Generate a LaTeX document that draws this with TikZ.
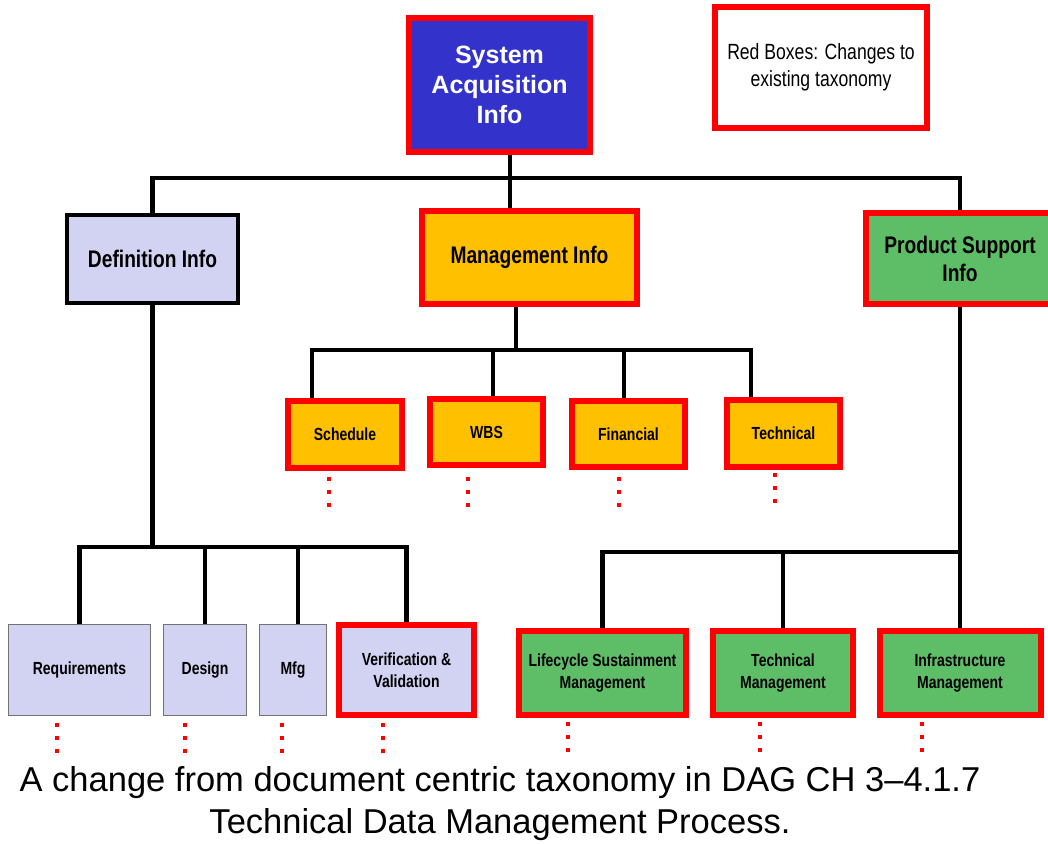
\documentclass[tikz,border=0pt]{standalone}
\usepackage{fontspec}
\setmainfont{Liberation Sans}
\newfontfamily\narrowfont[FakeStretch=0.8]{Liberation Sans}
\definecolor{saiblue}{HTML}{3333CC}
\definecolor{mgmtorange}{HTML}{FFC000}
\definecolor{supgreen}{HTML}{5EBE68}
\definecolor{deflilac}{HTML}{D2D2F2}
\definecolor{chgred}{HTML}{FF0000}
\begin{document}
\begin{tikzpicture}[x=1pt, y=-1pt,
		box/.style = {rectangle, align=center, inner sep=0pt},
		changed/.style = {box, draw=chgred, line width=6pt},
		kept/.style = {box, draw=black!55, line width=1pt, fill=deflilac},
		big/.style = {font=\narrowfont\bfseries\fontsize{24}{28}\selectfont},
		small/.style = {font=\narrowfont\bfseries\fontsize{17.5}{22}\selectfont},
		link/.style = {line width=4.5pt},
		more/.style = {chgred, line width=3.5pt, dash pattern=on 4pt off 9pt}]
	\useasboundingbox (0,0) rectangle (1048,843);
	
	\node[changed, fill=saiblue, text=white, minimum width=181, minimum height=134,
		font=\bfseries\fontsize{25}{30}\selectfont] (sai) at (499.5,85) {System\\Acquisition\\Info};
	\node[changed, fill=white, minimum width=212, minimum height=121,
		font=\narrowfont\fontsize{22}{27}\selectfont] (key) at (821,67.5) {Red Boxes: Changes to\\existing taxonomy};
	
	\node[box, big, draw=black, line width=4pt, fill=deflilac, minimum width=171, minimum height=88] (defi) at (152.5,259) {Definition Info};
	\node[changed, big, fill=mgmtorange, minimum width=215, minimum height=93] (mgmt) at (529.5,257.5) {Management Info};
	\node[changed, big, fill=supgreen, minimum width=188, minimum height=91] (psup) at (960,258.5) {Product Support\\Info};
	
	\node[changed, small, fill=mgmtorange, minimum width=114, minimum height=67] (sched) at (345,434.5) {Schedule};
	\node[changed, small, fill=mgmtorange, minimum width=113, minimum height=66] (wbs) at (486.5,432) {WBS};
	\node[changed, small, fill=mgmtorange, minimum width=113, minimum height=66] (fin) at (628.5,434) {Financial};
	\node[changed, small, fill=mgmtorange, minimum width=113, minimum height=67] (tech) at (783.5,433.5) {Technical};
	
	\node[kept, small, minimum width=142, minimum height=91] (req) at (79.5,670) {Requirements};
	\node[kept, small, minimum width=83, minimum height=91] (des) at (205,670) {Design};
	\node[kept, small, minimum width=67, minimum height=91] (mfg) at (293,670) {Mfg};
	\node[changed, small, fill=deflilac, minimum width=135, minimum height=90] (vv) at (406.5,670) {Verification \&\\Validation};
	
	\node[changed, small, fill=supgreen, minimum width=167, minimum height=84] (life) at (602.5,673) {Lifecycle Sustainment\\Management};
	\node[changed, small, fill=supgreen, minimum width=140, minimum height=84] (tmgt) at (783,673) {Technical\\Management};
	\node[changed, small, fill=supgreen, minimum width=161, minimum height=84] (infra) at (960,673) {Infrastructure\\Management};
	
	\node[align=center, font=\fontsize{34.5}{42}\selectfont] (note) at (500,804) {A change from document centric taxonomy in DAG CH 3–4.1.7\\Technical Data Management Process.};
	
	\coordinate (top) at (510,178);
	\coordinate (mbus) at (516,350);
	\coordinate (m1) at (312,350);
	\coordinate (m2) at (493,350);
	\coordinate (m3) at (624,350);
	\coordinate (m4) at (751,350);
	\coordinate (dbus) at (152.5,547);
	\coordinate (d3) at (298,547);
	\coordinate (sbus) at (960,552);
	
	\draw[link] (sai.south -| top) -- (top);
	\draw[link] (defi.north) |- (top) -| (psup.north);
	\draw[link] (top) -- (mgmt.north -| top);
	
	\draw[link] (mgmt.south -| mbus) -- (mbus);
	\draw[link] (sched.north -| m1) |- (m4) -- (tech.north -| m4);
	\draw[link] (m2) -- (wbs.north -| m2);
	\draw[link] (m3) -- (fin.north -| m3);
	
	\draw[link] (defi.south) -- (dbus);
	\draw[link] (req.north) |- (dbus) -| (vv.north);
	\draw[link] (des.north) -- (des.north |- dbus);
	\draw[link] (mfg.north -| d3) -- (d3);
	
	\draw[link] (psup.south) -- (infra.north);
	\draw[link] (life.north) |- (sbus);
	\draw[link] (tmgt.north) -- (tmgt.north |- sbus);
	
	\draw[more] ([xshift=-16pt,yshift=-6pt]sched.south) -- ++(0,30);
	\draw[more] ([xshift=-18.5pt,yshift=-9pt]wbs.south) -- ++(0,30);
	\draw[more] ([xshift=-9.5pt,yshift=-7pt]fin.south) -- ++(0,30);
	\draw[more] ([xshift=-8.5pt,yshift=-3pt]tech.south) -- ++(0,30);
	\draw[more] ([xshift=-22.5pt,yshift=-7pt]req.south) -- ++(0,30);
	\draw[more] ([xshift=-20pt,yshift=-7pt]des.south) -- ++(0,30);
	\draw[more] ([xshift=-11pt,yshift=-7pt]mfg.south) -- ++(0,30);
	\draw[more] ([xshift=-23.5pt,yshift=-5pt]vv.south) -- ++(0,30);
	\draw[more] ([xshift=-34.5pt,yshift=-4pt]life.south) -- ++(0,30);
	\draw[more] ([xshift=-23pt,yshift=-4pt]tmgt.south) -- ++(0,30);
	\draw[more] ([xshift=-38pt,yshift=-4pt]infra.south) -- ++(0,30);
\end{tikzpicture}
\end{document}
